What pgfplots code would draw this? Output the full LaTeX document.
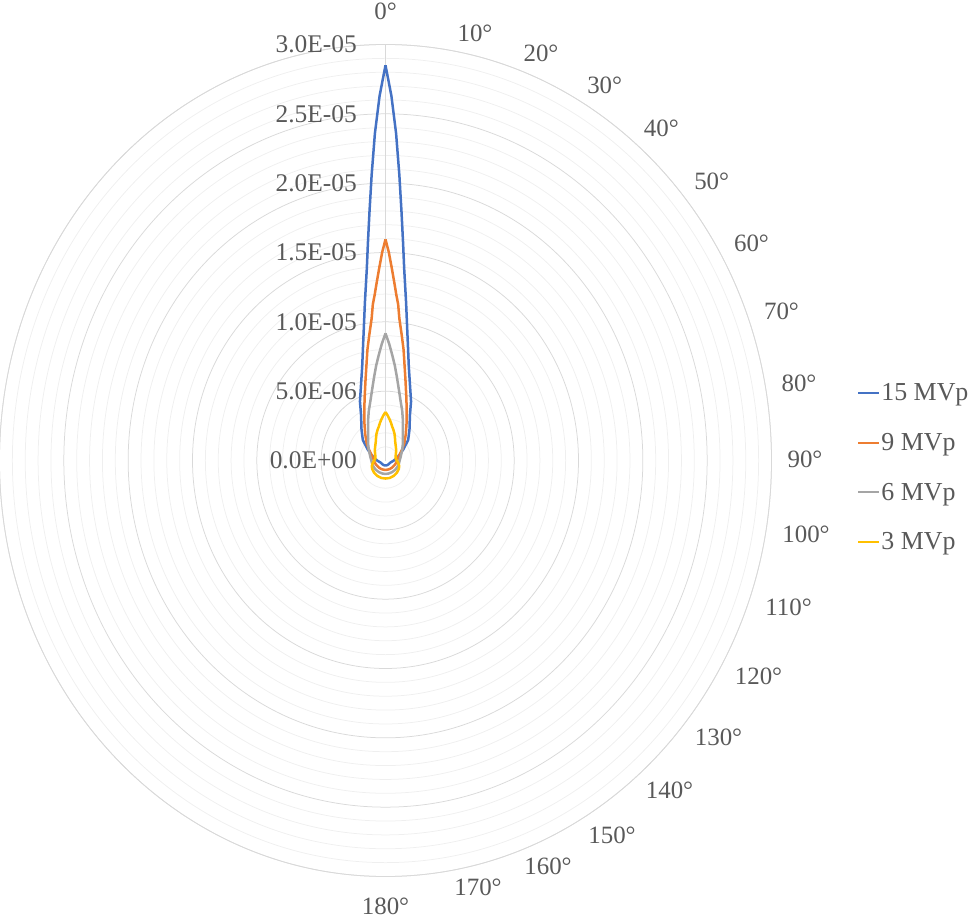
\documentclass[border=0pt]{standalone}
\usepackage{fontspec}
\setmainfont{Liberation Serif}
\usepackage{pgfplots}
\usepackage{pgfplotstable}
\pgfplotsset{compat=1.18}
\usepgfplotslibrary{polar}
\definecolor{sBlue}{HTML}{4472C4}
\definecolor{sOrange}{HTML}{ED7D31}
\definecolor{sGray}{HTML}{A5A5A5}
\definecolor{sYellow}{HTML}{FFC000}
\definecolor{txt}{HTML}{595959}
\definecolor{gmaj}{HTML}{D9D9D9}
\definecolor{gmin}{HTML}{EFEFEF}

% angle t: degrees clockwise from 0 deg (top); r: value
\pgfplotstableread{
t r
0 28.5e-6
1 26.3e-6
2 23.6e-6
3 20.6e-6
4 17.9e-6
5 15.7e-6
6 13.9e-6
8 11.5e-6
10 9.7e-6
12 8.4e-6
15 7.0e-6
20 5.6e-6
25 4.7e-6
30 3.8e-6
40 2.9e-6
50 2.3e-6
60 1.6e-6
70 1.15e-6
80 0.85e-6
90 0.65e-6
100 0.5e-6
110 0.42e-6
120 0.38e-6
135 0.36e-6
150 0.36e-6
165 0.36e-6
180 0.36e-6
195 0.36e-6
210 0.36e-6
225 0.36e-6
240 0.38e-6
250 0.42e-6
260 0.5e-6
270 0.65e-6
280 0.85e-6
290 1.15e-6
300 1.6e-6
310 2.3e-6
320 2.9e-6
330 3.8e-6
335 4.7e-6
340 5.6e-6
345 7.0e-6
348 8.4e-6
350 9.7e-6
352 11.5e-6
354 13.9e-6
355 15.7e-6
356 17.9e-6
357 20.6e-6
358 23.6e-6
359 26.3e-6
360 28.5e-6
}\tblA

\pgfplotstableread{
t r
0 15.95e-6
1 15.0e-6
2 13.9e-6
3 12.9e-6
4 12.0e-6
5 11.3e-6
6 10.3e-6
8 9.1e-6
10 8.1e-6
12 7.1e-6
15 6.0e-6
20 4.75e-6
25 3.9e-6
30 3.3e-6
40 2.45e-6
50 1.9e-6
60 1.45e-6
70 1.15e-6
80 0.98e-6
90 0.9e-6
100 0.85e-6
110 0.8e-6
120 0.76e-6
135 0.72e-6
150 0.7e-6
165 0.68e-6
180 0.68e-6
195 0.68e-6
210 0.7e-6
225 0.72e-6
240 0.76e-6
250 0.8e-6
260 0.85e-6
270 0.9e-6
280 0.98e-6
290 1.15e-6
300 1.45e-6
310 1.9e-6
320 2.45e-6
330 3.3e-6
335 3.9e-6
340 4.75e-6
345 6.0e-6
348 7.1e-6
350 8.1e-6
352 9.1e-6
354 10.3e-6
355 11.3e-6
356 12.0e-6
357 12.9e-6
358 13.9e-6
359 15.0e-6
360 15.95e-6
}\tblB

\pgfplotstableread{
t r
0 9.17e-6
2 8.4e-6
4 7.6e-6
6 6.9e-6
8 6.2e-6
10 5.6e-6
12 5.1e-6
15 4.5e-6
20 3.8e-6
25 3.2e-6
30 2.7e-6
40 2.1e-6
50 1.75e-6
60 1.5e-6
70 1.3e-6
80 1.18e-6
90 1.1e-6
100 1.07e-6
110 1.05e-6
120 1.03e-6
135 1.0e-6
150 0.98e-6
165 0.97e-6
180 0.97e-6
195 0.97e-6
210 0.98e-6
225 1.0e-6
240 1.03e-6
250 1.05e-6
260 1.07e-6
270 1.1e-6
280 1.18e-6
290 1.3e-6
300 1.5e-6
310 1.75e-6
320 2.1e-6
330 2.7e-6
335 3.2e-6
340 3.8e-6
345 4.5e-6
348 5.1e-6
350 5.6e-6
352 6.2e-6
354 6.9e-6
356 7.6e-6
358 8.4e-6
360 9.17e-6
}\tblC

\pgfplotstableread{
t r
0 3.5e-6
3 3.25e-6
6 3.0e-6
9 2.75e-6
12 2.5e-6
15 2.33e-6
20 2.05e-6
25 1.75e-6
30 1.52e-6
35 1.37e-6
40 1.26e-6
50 1.08e-6
60 0.93e-6
70 0.83e-6
80 0.8e-6
90 0.88e-6
100 1.0e-6
110 1.13e-6
120 1.2e-6
135 1.25e-6
150 1.28e-6
165 1.3e-6
180 1.3e-6
195 1.3e-6
210 1.28e-6
225 1.25e-6
240 1.2e-6
250 1.13e-6
260 1.0e-6
270 0.88e-6
280 0.8e-6
290 0.83e-6
300 0.93e-6
310 1.08e-6
320 1.26e-6
325 1.37e-6
330 1.52e-6
335 1.75e-6
340 2.05e-6
345 2.33e-6
348 2.5e-6
351 2.75e-6
354 3.0e-6
357 3.25e-6
360 3.5e-6
}\tblD

\newcommand\alab[3]{\node[font=\fontsize{25}{30}\selectfont, text=txt, inner sep=0pt, anchor=center] at ([shift={(#1bp,#2bp)}]ctr) {#3};}

\begin{document}
\begin{tikzpicture}
\begin{polaraxis}[
  scale only axis,
  width=772bp, height=832bp,
  xmin=90, xmax=450,
  ymin=0, ymax=30e-6,
  xtick=\empty,
  ytick={0,5e-6,10e-6,15e-6,20e-6,25e-6,30e-6},
  yticklabels={0.0E+00,5.0E-06,1.0E-05,1.5E-05,2.0E-05,2.5E-05,3.0E-05},
  scaled y ticks=false,
  minor ytick={1e-6,2e-6,3e-6,4e-6,6e-6,7e-6,8e-6,9e-6,11e-6,12e-6,13e-6,14e-6,16e-6,17e-6,18e-6,19e-6,21e-6,22e-6,23e-6,24e-6,26e-6,27e-6,28e-6,29e-6},
  xmajorgrids=false,
  ymajorgrids=true, yminorgrids=true,
  major grid style={draw=gmaj, line width=0.75bp},
  minor grid style={draw=gmin, line width=0.75bp},
  major tick length=0pt, minor tick length=0pt,
  axis line style={draw=gmaj, line width=0.75bp},
  yticklabel style={font=\fontsize{25.5}{30}\selectfont, text=txt, anchor=east, inner sep=0pt, xshift=-28.5bp},
  legend style={at={(1.111,0.4915)}, anchor=west, draw=none, fill=none,
    font=\fontsize{26}{31}\selectfont, text=txt,
    row sep=29bp, inner sep=0pt, nodes={inner sep=1bp}},
  legend cell align=left,
  legend image code/.code={\draw[#1, line width=2bp] (0bp,0bp) -- (21bp,0bp);},
  every axis plot/.append style={line width=2.5bp, line join=round, no markers},
]
\addplot[sBlue] table[x expr=450-\thisrow{t}, y=r] {\tblA};
\addlegendentry{15 MVp}
\addplot[sOrange] table[x expr=450-\thisrow{t}, y=r] {\tblB};
\addlegendentry{9 MVp}
\addplot[sGray] table[x expr=450-\thisrow{t}, y=r] {\tblC};
\addlegendentry{6 MVp}
\addplot[sYellow] table[x expr=450-\thisrow{t}, y=r] {\tblD};
\addlegendentry{3 MVp}
\coordinate (ctr) at (axis cs:0,0);
\end{polaraxis}
\alab{0}{449.5}{0°}
\alab{89.5}{427}{10°}
\alab{155.5}{407.5}{20°}
\alab{219.2}{375.5}{30°}
\alab{275.8}{332.2}{40°}
\alab{326.2}{279.3}{50°}
\alab{366}{217}{60°}
\alab{396}{149}{70°}
\alab{413.5}{77.5}{80°}
\alab{419.5}{0.8}{90°}
\alab{420.5}{-73.5}{100°}
\alab{403}{-146.5}{110°}
\alab{373}{-215.8}{120°}
\alab{333}{-277}{130°}
\alab{284}{-329.5}{140°}
\alab{226.5}{-374.5}{150°}
\alab{162.5}{-406}{160°}
\alab{92.5}{-426.5}{170°}
\alab{0}{-445.5}{180°}
\pgfresetboundingbox
\path[use as bounding box] (ctr) ++(-385.5bp,-458.5bp) rectangle ++(969bp,919bp);
\end{tikzpicture}
\end{document}
